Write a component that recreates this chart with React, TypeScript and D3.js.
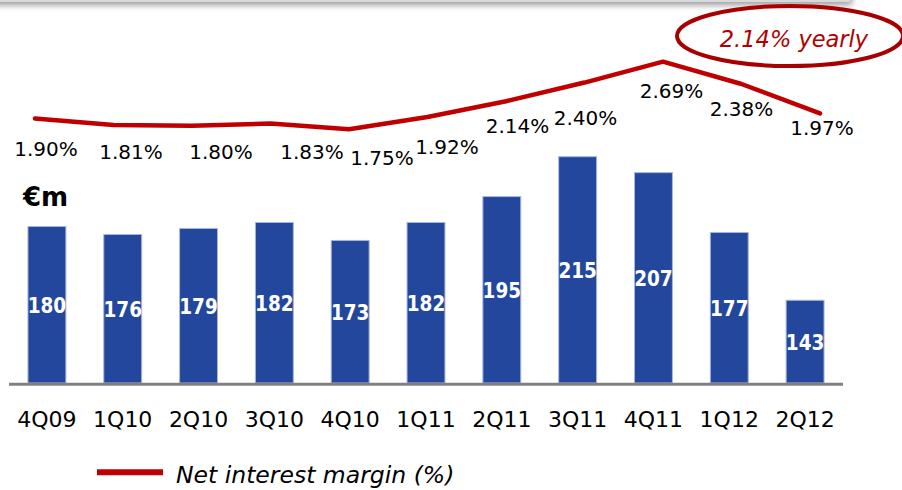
import React from "react";
import * as d3 from "d3";

const quarters = ["4Q09", "1Q10", "2Q10", "3Q10", "4Q10", "1Q11", "2Q11", "3Q11", "4Q11", "1Q12", "2Q12"];
const nii = [180, 176, 179, 182, 173, 182, 195, 215, 207, 177, 143];
const nim = [1.9, 1.81, 1.8, 1.83, 1.75, 1.92, 2.14, 2.4, 2.69, 2.38, 1.97];
const nimLabels = ["1.90%", "1.81%", "1.80%", "1.83%", "1.75%", "1.92%", "2.14%", "2.40%", "2.69%", "2.38%", "1.97%"];
// manual nudges of the margin labels (layout, relative to the line point)
const nimLabelDx = [11, 17.5, 29, 41.5, 33, 19.5, 11.5, 1, 8.5, 0, 2];
const nimLabelDy = [30, 27, 26, 28, 28, 29, 24, 35, 29, 25, 14];
const yearlyText = "2.14% yearly";
const unitText = "€m";
const legendText = "Net interest margin (%)";

const W = 902;
const H = 490;
const FONT = "'DejaVu Sans', Verdana, sans-serif";

export default function App() {
  const x = d3.scaleBand<string>().domain(quarters).range([9, 843]).paddingInner(0.5).paddingOuter(0.25);
  const y = d3.scaleLinear().domain([101.5, 215]).range([383, 156.7]);
  const lx = d3.scalePoint<string>().domain(quarters).range([35, 820]);
  const ly = d3.scaleLinear().domain([1.75, 2.69]).range([129.3, 61.7]);

  const line = d3
    .line<number>()
    .x((_, i) => lx(quarters[i]) as number)
    .y((d) => ly(d));

  return (
    <svg width={W} height={H} style={{ position: "absolute", left: 0, top: 0, background: "#fff" }}>
      <defs>
        <filter id="shadow" x="-5%" y="-100%" width="110%" height="300%">
          <feGaussianBlur stdDeviation="3" />
        </filter>
      </defs>
      {/* header strip with shadow */}
      <rect x={-10} y={-20} width={862} height={25} fill="#9a9a9a" filter="url(#shadow)" />
      <rect x={-10} y={-20} width={860} height={22} fill="#d9d9d9" />

      {/* bars */}
      {nii.map((v, i) => (
        <rect
          key={"b" + i}
          x={x(quarters[i])}
          y={y(v)}
          width={x.bandwidth()}
          height={y(101.5) - y(v)}
          fill="#23479C"
          stroke="#A9B6DC"
          strokeWidth={1}
        />
      ))}
      {/* bar value labels */}
      {nii.map((v, i) => (
        <text
          key={"bl" + i}
          x={(x(quarters[i]) as number) + x.bandwidth() / 2}
          y={(y(v) + y(101.5)) / 2 + 8}
          textAnchor="middle"
          fill="#fff"
          fontFamily={"'DejaVu Sans Condensed', " + FONT}
          fontWeight="bold"
          fontSize={20.5}
        >
          {v}
        </text>
      ))}

      {/* axis line */}
      <line x1={9} x2={843} y1={384.2} y2={384.2} stroke="#808080" strokeWidth={3} />

      {/* x labels */}
      {quarters.map((q) => (
        <text
          key={q}
          x={(x(q) as number) + x.bandwidth() / 2}
          y={427}
          textAnchor="middle"
          fontFamily={FONT}
          fontSize={22}
          fill="#000"
        >
          {q}
        </text>
      ))}

      {/* NIM line */}
      <path d={line(nim) || ""} fill="none" stroke="#C00000" strokeWidth={4.5} strokeLinejoin="round" strokeLinecap="round" />
      {nim.map((v, i) => (
        <text
          key={"nl" + i}
          x={(lx(quarters[i]) as number) + nimLabelDx[i]}
          y={ly(v) + nimLabelDy[i] + 7.5}
          textAnchor="middle"
          fontFamily={FONT}
          fontSize={20}
          fill="#000"
        >
          {nimLabels[i]}
        </text>
      ))}

      {/* unit */}
      <text x={23} y={206} fontFamily={FONT} fontWeight="bold" fontSize={26} fill="#000">
        {unitText}
      </text>

      {/* yearly callout */}
      <ellipse cx={790} cy={36} rx={113} ry={30} fill="none" stroke="#A80000" strokeWidth={4} />
      <text x={794} y={47} textAnchor="middle" fontFamily={FONT} fontStyle="italic" fontSize={22.5} fill="#B00000">
        {yearlyText}
      </text>

      {/* legend */}
      <line x1={97} x2={163} y1={472.3} y2={472.3} stroke="#C00000" strokeWidth={6} />
      <text x={176} y={483} fontFamily={FONT} fontStyle="italic" fontSize={23.5} fill="#000">
        {legendText}
      </text>
    </svg>
  );
}
